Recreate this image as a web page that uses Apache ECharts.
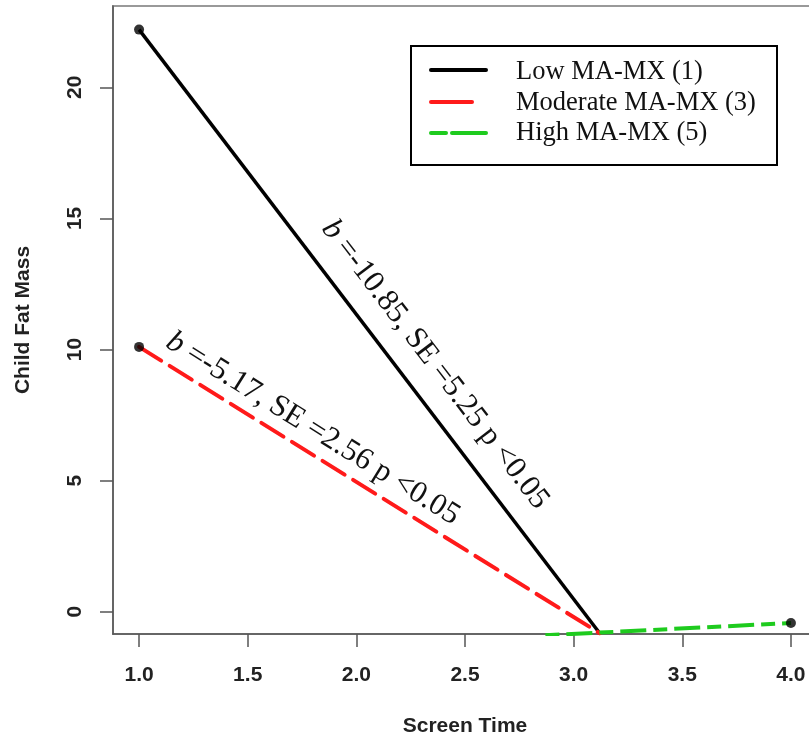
<!DOCTYPE html>
<html>
<head>
<meta charset="utf-8">
<script src="https://cdn.jsdelivr.net/npm/echarts@6/dist/echarts.min.js"></script>
<style>html,body{margin:0;padding:0;background:#fff;}#c{width:809px;height:741px;}</style>
</head>
<body>
<div id="c"></div>
<script>
const xTicks = [1.0, 1.5, 2.0, 2.5, 3.0, 3.5, 4.0];
const yTicks = [0, 5, 10, 15, 20];
const lowLine = [[1, 22.2], [3.12, -0.82]];
const modLine = [[1, 10.1], [3.12, -0.82]];
const highLine = [[2.87, -0.9], [4, -0.43]];
const endPoints = [[1, 22.2], [1, 10.1], [4, -0.43]];
const legendNames = ['Low MA-MX (1)', 'Moderate MA-MX (3)', 'High MA-MX (5)'];
const lowNote = { b: '-10.85', se: '5.25', p: '0.05', at: [2.362, 9.42] };
const modNote = { b: '-5.17', se: '2.56', p: '0.05', at: [1.80, 6.98] };

const chart = echarts.init(document.getElementById('c'));
const tickFont = { fontFamily: 'Liberation Sans', fontWeight: 'bold', fontSize: 21, color: '#222' };
const serif = 'Liberation Serif';

chart.setOption({
  animation: false,
  grid: { left: 113, top: 6, width: 704, height: 628, containLabel: false, outerBoundsMode: 'none', show: true, borderColor: '#999', borderWidth: 2, backgroundColor: 'transparent' },
  xAxis: {
    type: 'value', min: 0.88, max: 4.12,
    name: 'Screen Time', nameLocation: 'middle', nameGap: 82,
    nameTextStyle: tickFont,
    axisLine: { show: true, onZero: false, lineStyle: { color: '#555', width: 1.5 } },
    axisTick: { show: true, length: 13, customValues: xTicks, lineStyle: { color: '#555', width: 1.5 } },
    axisLabel: Object.assign({ customValues: xTicks, margin: 31, hideOverlap: false, formatter: v => v.toFixed(1) }, tickFont),
    splitLine: { show: false }
  },
  yAxis: {
    type: 'value', min: -0.85, max: 23.1,
    name: 'Child Fat Mass', nameLocation: 'middle', nameGap: 79, nameRotate: 90,
    nameTextStyle: tickFont,
    axisLine: { show: true, onZero: false, lineStyle: { color: '#555', width: 1.5 } },
    axisTick: { show: true, length: 13, customValues: yTicks, lineStyle: { color: '#555', width: 1.5 } },
    axisLabel: Object.assign({ customValues: yTicks, margin: 27, rotate: 90 }, tickFont),
    splitLine: { show: false }
  },
  series: [
    { name: legendNames[0], type: 'line', data: lowLine, showSymbol: false, lineStyle: { color: '#000', width: 3.5 } },
    { name: legendNames[1], type: 'line', data: modLine, showSymbol: false, lineStyle: { color: '#ff1a1a', width: 4, type: [26, 10], cap: 'round' } },
    { name: legendNames[2], type: 'line', data: highLine, showSymbol: false, lineStyle: { color: '#1ecb1e', width: 4, type: [14, 7, 26, 7] } },
    { type: 'scatter', data: endPoints, symbolSize: 10, itemStyle: { color: '#000' }, z: 5 }
  ]
});

function noteGraphic(note, line) {
  const p = chart.convertToPixel({ gridIndex: 0 }, note.at);
  const a = chart.convertToPixel({ gridIndex: 0 }, line[0]);
  const b = chart.convertToPixel({ gridIndex: 0 }, line[1]);
  const ang = Math.atan2(b[1] - a[1], b[0] - a[0]);
  return {
    type: 'text', x: p[0], y: p[1], rotation: -ang, z: 10,
    style: {
      text: '{i|b} =' + note.b + ', SE =' + note.se + ' p <' + note.p,
      fontFamily: serif, fontSize: 31, fill: '#111',
      align: 'center', verticalAlign: 'middle', textAlign: 'center', textVerticalAlign: 'middle',
      rich: { i: { fontStyle: 'italic', fontFamily: serif, fontSize: 31, fill: '#111' } }
    }
  };
}

const lx = 411, ly = 46;
const legendGraphics = [
  { type: 'rect', shape: { x: lx, y: ly, width: 366, height: 119 }, style: { fill: '#fff', stroke: '#000', lineWidth: 2 }, z: 20 },
  { type: 'line', shape: { x1: 431, y1: 70, x2: 486, y2: 70 }, style: { stroke: '#000', lineWidth: 4, lineCap: 'round' }, z: 21 },
  { type: 'line', shape: { x1: 431, y1: 102, x2: 472, y2: 102 }, style: { stroke: '#ff1a1a', lineWidth: 4, lineCap: 'round' }, z: 21 },
  { type: 'line', shape: { x1: 431, y1: 133, x2: 446, y2: 133 }, style: { stroke: '#1ecb1e', lineWidth: 4, lineCap: 'round' }, z: 21 },
  { type: 'line', shape: { x1: 452, y1: 133, x2: 486, y2: 133 }, style: { stroke: '#1ecb1e', lineWidth: 4, lineCap: 'round' }, z: 21 }
];
legendNames.forEach((n, i) => {
  legendGraphics.push({ type: 'text', x: 516, y: [72, 103, 133][i], z: 21,
    style: { text: n, fontFamily: serif, fontSize: 26.5, fill: '#111', verticalAlign: 'middle', textVerticalAlign: 'middle' } });
});

chart.setOption({ graphic: legendGraphics.concat([noteGraphic(lowNote, lowLine), noteGraphic(modNote, modLine)]) });
</script>
</body>
</html>
